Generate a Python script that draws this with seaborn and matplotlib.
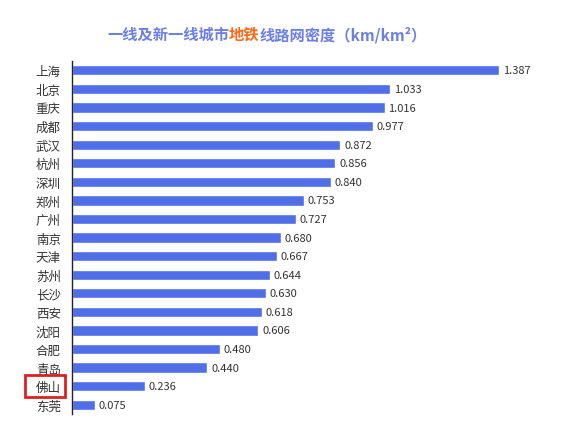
import matplotlib
matplotlib.use("Agg")
import matplotlib.pyplot as plt
import seaborn as sns
import pandas as pd
from matplotlib.patches import Rectangle

cities = ["上海","北京","重庆","成都","武汉","杭州","深圳","郑州","广州","南京","天津","苏州","长沙","西安","沈阳","合肥","青岛","佛山","东莞"]
values = [1.387,1.033,1.016,0.977,0.872,0.856,0.840,0.753,0.727,0.680,0.667,0.644,0.630,0.618,0.606,0.480,0.440,0.236,0.075]

sns.set_style("white")
plt.rcParams['font.family'] = ['Noto Sans CJK SC', 'DejaVu Sans']

fig = plt.figure(figsize=(5.62, 4.31), dpi=100)
ax = fig.add_axes([0.128, 0.037, 0.849, 0.819])
df = pd.DataFrame({"city": cities, "v": values})
sns.barplot(data=df, x="v", y="city", color="#4f6ee8", saturation=1, width=0.55, ax=ax)
ax.set_xlim(0, 1.55)
ax.set_xlabel(""); ax.set_ylabel("")
ax.set_xticks([])
for s in ["top", "right", "bottom"]:
    ax.spines[s].set_visible(False)
ax.spines["left"].set_color("#222222")
ax.spines["left"].set_linewidth(1)
ax.tick_params(axis="y", length=0, labelsize=9, colors="#333333", pad=8)
for i, v in enumerate(values):
    ax.text(v + 0.012, i, f"{v:.3f}", va="center", ha="left", fontsize=8, color="#333333")

# highlight box around 佛山
fig.add_artist(Rectangle((25/562, 1-398/431), 40/562, 22/431, transform=fig.transFigure,
                         fill=False, edgecolor="#e02020", linewidth=2))

t1 = fig.text(107/562, 1-35/431, "一线及新一线城市", fontsize=11, fontweight="bold", color="#6b7fe6", va="center", ha="left")
t2 = ax.annotate("地铁", xy=(1, 0.5), xycoords=t1, va="center", ha="left", fontsize=11, fontweight="bold", color="#ff6a1a")
t3 = ax.annotate("线路网密度（km/km²）", xy=(1, 0.5), xycoords=t2, va="center", ha="left", fontsize=11, fontweight="bold", color="#6b7fe6")

fig.savefig("out.png", dpi=100)
